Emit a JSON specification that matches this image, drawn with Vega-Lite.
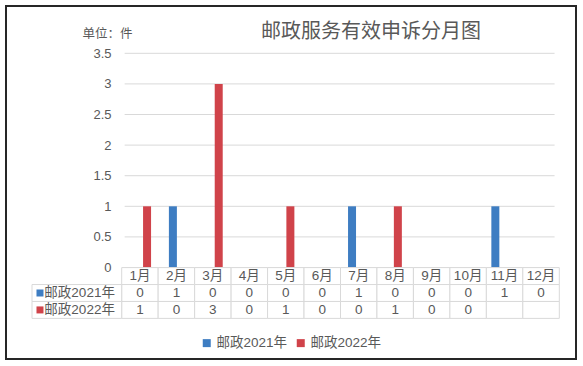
{
  "$schema": "https://vega.github.io/schema/vega-lite/v6.json",
  "width": 570,
  "height": 353,
  "autosize": {"type": "none"},
  "padding": {"left": 6, "top": 6, "right": 7, "bottom": 7},
  "background": "#ffffff",
  "config": {
    "view": {"stroke": "#262626", "strokeWidth": 2},
    "font": "Liberation Sans, Noto Sans CJK SC"
  },
  "title": {
    "text": "邮政服务有效申诉分月图",
    "frame": "group",
    "anchor": "middle",
    "orient": "top",
    "offset": 0,
    "baseline": "middle",
    "dx": 80,
    "dy": 46,
    "fontSize": 20,
    "fontWeight": "normal",
    "color": "#595959",
    "font": "Noto Sans CJK SC"
  },
  "datasets": {
    "counts": [
      {"月": 1, "月份": "1月", "系列": "邮政2021年", "件数": 0},
      {"月": 2, "月份": "2月", "系列": "邮政2021年", "件数": 1},
      {"月": 3, "月份": "3月", "系列": "邮政2021年", "件数": 0},
      {"月": 4, "月份": "4月", "系列": "邮政2021年", "件数": 0},
      {"月": 5, "月份": "5月", "系列": "邮政2021年", "件数": 0},
      {"月": 6, "月份": "6月", "系列": "邮政2021年", "件数": 0},
      {"月": 7, "月份": "7月", "系列": "邮政2021年", "件数": 1},
      {"月": 8, "月份": "8月", "系列": "邮政2021年", "件数": 0},
      {"月": 9, "月份": "9月", "系列": "邮政2021年", "件数": 0},
      {"月": 10, "月份": "10月", "系列": "邮政2021年", "件数": 0},
      {"月": 11, "月份": "11月", "系列": "邮政2021年", "件数": 1},
      {"月": 12, "月份": "12月", "系列": "邮政2021年", "件数": 0},
      {"月": 1, "月份": "1月", "系列": "邮政2022年", "件数": 1},
      {"月": 2, "月份": "2月", "系列": "邮政2022年", "件数": 0},
      {"月": 3, "月份": "3月", "系列": "邮政2022年", "件数": 3},
      {"月": 4, "月份": "4月", "系列": "邮政2022年", "件数": 0},
      {"月": 5, "月份": "5月", "系列": "邮政2022年", "件数": 1},
      {"月": 6, "月份": "6月", "系列": "邮政2022年", "件数": 0},
      {"月": 7, "月份": "7月", "系列": "邮政2022年", "件数": 0},
      {"月": 8, "月份": "8月", "系列": "邮政2022年", "件数": 1},
      {"月": 9, "月份": "9月", "系列": "邮政2022年", "件数": 0},
      {"月": 10, "月份": "10月", "系列": "邮政2022年", "件数": 0}
    ],
    "months": [
      {"月份": "1月"}, {"月份": "2月"}, {"月份": "3月"}, {"月份": "4月"},
      {"月份": "5月"}, {"月份": "6月"}, {"月份": "7月"}, {"月份": "8月"},
      {"月份": "9月"}, {"月份": "10月"}, {"月份": "11月"}, {"月份": "12月"}
    ],
    "grid": [
      {"v": 0}, {"v": 0.5}, {"v": 1}, {"v": 1.5}, {"v": 2}, {"v": 2.5}, {"v": 3}, {"v": 3.5}
    ],
    "rows": [
      {"系列": "邮政2021年"}, {"系列": "邮政2022年"}
    ]
  },
  "layer": [
    {
      "layer": [
        {
          "data": {"name": "grid"},
          "mark": {"type": "rule", "color": "#d9d9d9", "strokeWidth": 1},
          "encoding": {
            "y": {
              "field": "v", "type": "quantitative",
              "scale": {"domain": [-1.495, 4.273], "nice": false, "zero": false},
              "axis": {
                "values": [0, 0.5, 1, 1.5, 2, 2.5, 3, 3.5], "format": ".2~f",
                "offset": -110, "labelPadding": 5, "ticks": false, "domain": false, "grid": false,
                "labelFontSize": 13, "labelColor": "#595959",
                "title": "单位：件", "titleAngle": 0, "titleX": -34, "titleY": 27,
                "titleAlign": "left", "titleBaseline": "middle", "titleFontSize": 12.5,
                "titleFontWeight": "normal", "titleColor": "#595959", "titleFont": "Noto Sans CJK SC"
              }
            },
            "x": {"datum": 0.5, "type": "quantitative", "scale": {"domain": [-2.672, 12.958], "nice": false, "zero": false}, "axis": null},
            "x2": {"datum": 12.5}
          }
        },
        {
          "data": {"name": "counts"},
          "transform": [{"filter": "datum['系列'] === '邮政2021年' && datum['件数'] > 0"}],
          "mark": {"type": "bar", "width": 8, "xOffset": -5.5},
          "encoding": {
            "x": {"field": "月", "type": "quantitative", "scale": {"domain": [-2.672, 12.958], "nice": false, "zero": false}, "axis": null},
            "y": {
              "field": "件数", "type": "quantitative",
              "scale": {"domain": [-1.495, 4.273], "nice": false, "zero": false},
              "axis": {
                "values": [0, 0.5, 1, 1.5, 2, 2.5, 3, 3.5], "format": ".2~f",
                "offset": -110, "labelPadding": 5, "ticks": false, "domain": false, "grid": false,
                "labelFontSize": 13, "labelColor": "#595959",
                "title": "单位：件", "titleAngle": 0, "titleX": -34, "titleY": 27,
                "titleAlign": "left", "titleBaseline": "middle", "titleFontSize": 12.5,
                "titleFontWeight": "normal", "titleColor": "#595959", "titleFont": "Noto Sans CJK SC"
              }
            },
            "color": {
              "field": "系列", "type": "nominal",
              "scale": {"domain": ["邮政2021年", "邮政2022年"], "range": ["#3E7DC2", "#D0434A"]},
              "legend": {
                "orient": "none", "legendX": 194, "legendY": 330, "direction": "horizontal",
                "title": null, "symbolType": "square", "symbolSize": 64, "symbolStrokeWidth": 0,
                "labelFontSize": 13.5, "labelColor": "#595959", "labelOffset": 3, "columnPadding": 6, "padding": 0
              }
            }
          }
        },
        {
          "data": {"name": "counts"},
          "transform": [{"filter": "datum['系列'] === '邮政2022年' && datum['件数'] > 0"}],
          "mark": {"type": "bar", "width": 8, "xOffset": 4.5},
          "encoding": {
            "x": {"field": "月", "type": "quantitative", "scale": {"domain": [-2.672, 12.958], "nice": false, "zero": false}, "axis": null},
            "y": {
              "field": "件数", "type": "quantitative",
              "scale": {"domain": [-1.495, 4.273], "nice": false, "zero": false},
              "axis": {
                "values": [0, 0.5, 1, 1.5, 2, 2.5, 3, 3.5], "format": ".2~f",
                "offset": -110, "labelPadding": 5, "ticks": false, "domain": false, "grid": false,
                "labelFontSize": 13, "labelColor": "#595959",
                "title": "单位：件", "titleAngle": 0, "titleX": -34, "titleY": 27,
                "titleAlign": "left", "titleBaseline": "middle", "titleFontSize": 12.5,
                "titleFontWeight": "normal", "titleColor": "#595959", "titleFont": "Noto Sans CJK SC"
              }
            },
            "color": {
              "field": "系列", "type": "nominal",
              "scale": {"domain": ["邮政2021年", "邮政2022年"], "range": ["#3E7DC2", "#D0434A"]}
            }
          }
        }
      ]
    },
    {
      "layer": [
        {
          "data": {"name": "months"},
          "mark": {"type": "rect", "fill": "#ffffff", "stroke": "#d9d9d9", "strokeWidth": 1},
          "encoding": {
            "x": {"field": "月份", "type": "ordinal", "scale": {"domain": ["1月","2月","3月","4月","5月","6月","7月","8月","9月","10月","11月","12月"], "paddingInner": 0, "paddingOuter": 0, "range": [115.7, 553.3]}, "axis": null},
            "y": {"datum": "月份", "type": "ordinal", "scale": {"domain": ["月份", "邮政2021年", "邮政2022年"], "paddingInner": 0, "paddingOuter": 0, "range": [261.6, 312.4]}, "axis": null}
          }
        },
        {
          "data": {"name": "months"},
          "mark": {"type": "rect", "fill": "#ffffff", "stroke": "#d9d9d9", "strokeWidth": 1},
          "encoding": {
            "x": {"field": "月份", "type": "ordinal", "axis": null},
            "y": {"datum": "邮政2021年", "type": "ordinal", "axis": null}
          }
        },
        {
          "data": {"name": "months"},
          "mark": {"type": "rect", "fill": "#ffffff", "stroke": "#d9d9d9", "strokeWidth": 1},
          "encoding": {
            "x": {"field": "月份", "type": "ordinal", "axis": null},
            "y": {"datum": "邮政2022年", "type": "ordinal", "axis": null}
          }
        },
        {
          "data": {"name": "months"},
          "mark": {"type": "text", "fontSize": 13.5, "color": "#595959"},
          "encoding": {
            "x": {"field": "月份", "type": "ordinal", "axis": null},
            "y": {"datum": "月份", "type": "ordinal", "axis": null},
            "text": {"field": "月份"}
          }
        },
        {
          "data": {"name": "counts"},
          "mark": {"type": "text", "fontSize": 13.5, "color": "#595959"},
          "encoding": {
            "x": {"field": "月份", "type": "ordinal", "axis": null},
            "y": {"field": "系列", "type": "ordinal", "axis": null},
            "text": {"field": "件数", "type": "quantitative"}
          }
        }
      ]
    },
    {
      "layer": [
        {
          "data": {"name": "rows"},
          "mark": {"type": "rect", "fill": "#ffffff", "stroke": "#d9d9d9", "strokeWidth": 1},
          "encoding": {
            "x": {"datum": -1.959, "type": "quantitative", "scale": {"domain": [-2.672, 12.958], "nice": false, "zero": false}, "axis": null},
            "x2": {"datum": 0.5},
            "y": {"field": "系列", "type": "ordinal", "scale": {"domain": ["月份", "邮政2021年", "邮政2022年"], "paddingInner": 0, "paddingOuter": 0, "range": [261.6, 312.4]}, "axis": null}
          }
        },
        {
          "data": {"name": "rows"},
          "mark": {"type": "point", "shape": "square", "filled": true, "size": 49, "opacity": 1},
          "encoding": {
            "x": {"datum": -1.74, "type": "quantitative", "axis": null},
            "y": {"field": "系列", "type": "ordinal", "axis": null},
            "color": {
              "field": "系列", "type": "nominal",
              "scale": {"domain": ["邮政2021年", "邮政2022年"], "range": ["#3E7DC2", "#D0434A"]}
            }
          }
        },
        {
          "data": {"name": "rows"},
          "mark": {"type": "text", "align": "left", "fontSize": 13.5, "color": "#595959"},
          "encoding": {
            "x": {"datum": -1.62, "type": "quantitative", "axis": null},
            "y": {"field": "系列", "type": "ordinal", "axis": null},
            "text": {"field": "系列"}
          }
        }
      ]
    }
  ],
  "resolve": {
    "scale": {"x": "independent", "y": "independent"},
    "axis": {"x": "independent", "y": "independent"}
  }
}
